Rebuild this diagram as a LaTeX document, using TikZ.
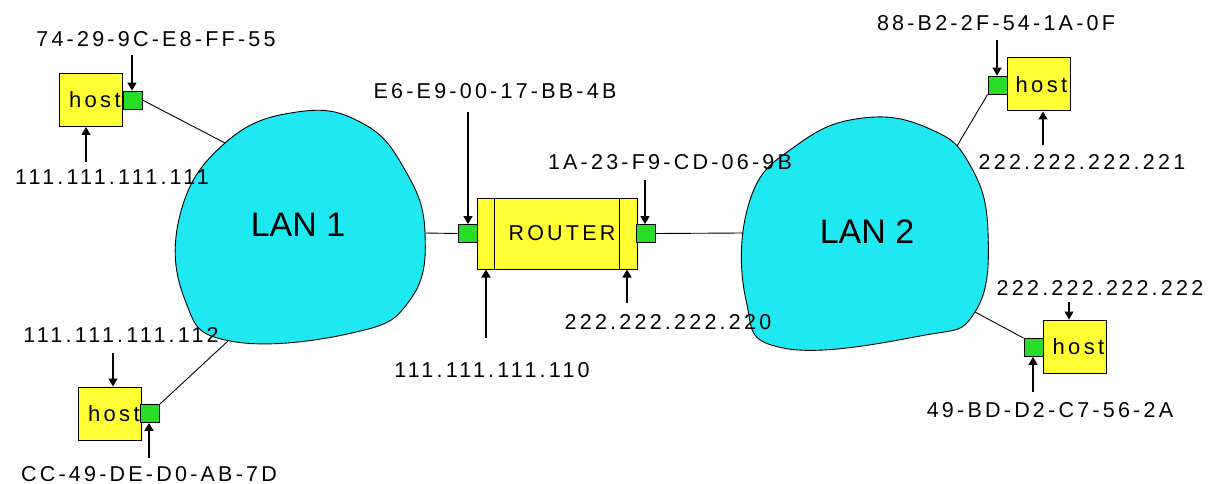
\documentclass[tikz,border=0pt]{standalone}
\usepackage{fontspec}
\newfontfamily\lblfont{Liberation Sans}[LetterSpace=15]
\newfontfamily\lanfont{Liberation Sans}
\usetikzlibrary{arrows.meta}
\definecolor{hostyellow}{RGB}{255,255,51}
\definecolor{portgreen}{RGB}{40,220,40}
\definecolor{lancyan}{RGB}{32,232,240}
\tikzset{
  hostbox/.style={draw, fill=hostyellow, line width=1pt, minimum width=63pt, minimum height=53pt, inner sep=0pt},
  portbox/.style={draw, fill=portgreen, line width=0.8pt, minimum width=19pt, minimum height=18pt, inner sep=0pt},
  lbl/.style={font=\lblfont\fontsize{21.5}{21.5}\selectfont, inner sep=0pt},
  hosttxt/.style={font=\lblfont\fontsize{22}{22}\selectfont, inner sep=0pt, anchor=west},
  lantxt/.style={font=\lanfont\fontsize{34}{34}\selectfont, inner sep=0pt},
  arr/.style={-{Triangle[length=8pt,width=9pt]}, line width=1.4pt},
  wire/.style={line width=0.9pt},
  lan/.style={draw, fill=lancyan, line width=0.9pt}
}
\begin{document}
\begin{tikzpicture}[x=1pt,y=-1pt]
\useasboundingbox (0,0) rectangle (1215,484);
% clouds
\draw[lan] plot[smooth cycle, tension=0.75] coordinates {
 (225,143) (297,112) (362,123) (405,170) (425,233) (410,300) (352,333) (230,341) (185,300) (180,215)};
\coordinate (l1a) at (225,143);
\coordinate (l1b) at (228,341);
\coordinate (l1c) at (425,233);
\node[lantxt] (lan1) at (298,225) {LAN 1};
\draw[lan] plot[smooth cycle, tension=0.75] coordinates {
 (797,145) (863,118) (930,129) (970,165) (988,232) (975,312) (920,336) (783,348) (746,300) (750,200)};
\coordinate (l2a) at (957,146);
\coordinate (l2b) at (975,312);
\coordinate (l2c) at (743,233);
\node[lantxt] (lan2) at (867,232) {LAN 2};
% hosts
\node[hostbox] (h1) at (91,100) {};
\node[hosttxt] (t1) at ([xshift=10pt]h1.west) {host};
\node[portbox] (p1) at (132.5,100) {};
\node[hostbox] (h2) at (110,413.5) {};
\node[hosttxt] (t2) at ([xshift=10pt]h2.west) {host};
\node[portbox] (p2) at (150,413.5) {};
\node[hostbox] (h3) at (1038.5,84.5) {};
\node[hosttxt] (t3) at ([xshift=9pt]h3.west) {host};
\node[portbox] (p3) at (997.5,85) {};
\node[hostbox] (h4) at (1074.5,346.5) {};
\node[hosttxt] (t4) at ([xshift=10pt]h4.west) {host};
\node[portbox] (p4) at (1033.5,347.5) {};
% router
\node[draw, fill=hostyellow, line width=1pt, minimum width=160pt, minimum height=71pt, inner sep=0pt] (r) at (557,233.5) {};
\node[lbl] (rt) at (562,233) {ROUTER};
\draw[line width=1pt] ([xshift=18pt]r.north west) -- ([xshift=18pt]r.south west);
\draw[line width=1pt] ([xshift=-18pt]r.north east) -- ([xshift=-18pt]r.south east);
\node[portbox] (rp1) at (467.5,233.5) {};
\node[portbox] (rp2) at (646,233.5) {};
% wires
\draw[wire] (p1.east) -- (l1a);
\draw[wire] (p2.north east) -- (l1b);
\draw[wire] (l1c) -- (rp1.west);
\draw[wire] (rp2.east) -- (l2c);
\draw[wire] (p3.south west) -- (l2a);
\draw[wire] (p4.north west) -- (l2b);
% labels
\node[lbl] (L1) at (156,39) {74-29-9C-E8-FF-55};
\node[lbl] (L2) at (112,177) {111.111.111.111};
\node[lbl] (L3) at (121,335) {111.111.111.112};
\node[lbl] (L4) at (149,474) {CC-49-DE-D0-AB-7D};
\node[lbl] (L5) at (495,91) {E6-E9-00-17-BB-4B};
\node[lbl] (L6) at (670,162) {1A-23-F9-CD-06-9B};
\node[lbl] (L7) at (492,370) {111.111.111.110};
\node[lbl] (L8) at (668,322) {222.222.222.220};
\node[lbl] (L9) at (996,23) {88-B2-2F-54-1A-0F};
\node[lbl] (L10) at (1082,162) {222.222.222.221};
\node[lbl] (L11) at (1100,288) {222.222.222.222};
\node[lbl] (L12) at (1050,410) {49-BD-D2-C7-56-2A};
% arrows
\coordinate (a1) at (132,55);
\coordinate (a2) at (86,162);
\coordinate (a3) at (113,353);
\coordinate (a4) at (149,458);
\coordinate (a5) at (468,112);
\coordinate (a6) at (645,180);
\coordinate (a7) at (486,338);
\coordinate (a8) at (627,303);
\coordinate (a9) at (997,40);
\coordinate (a10) at (1043,145);
\coordinate (a11) at (1069,302);
\coordinate (a12) at (1033,392);
\draw[arr] (a1) -- (a1 |- p1.north);
\draw[arr] (a2) -- (a2 |- h1.south);
\draw[arr] (a3) -- (a3 |- h2.north);
\draw[arr] (a4) -- (a4 |- p2.south);
\draw[arr] (a5) -- (a5 |- rp1.north);
\draw[arr] (a6) -- (a6 |- rp2.north);
\draw[arr] (a7) -- (a7 |- r.south);
\draw[arr] (a8) -- (a8 |- r.south);
\draw[arr] (a9) -- (a9 |- p3.north);
\draw[arr] (a10) -- (a10 |- h3.south);
\draw[arr] (a11) -- (a11 |- h4.north);
\draw[arr] (a12) -- (a12 |- p4.south);
\end{tikzpicture}
\end{document}
